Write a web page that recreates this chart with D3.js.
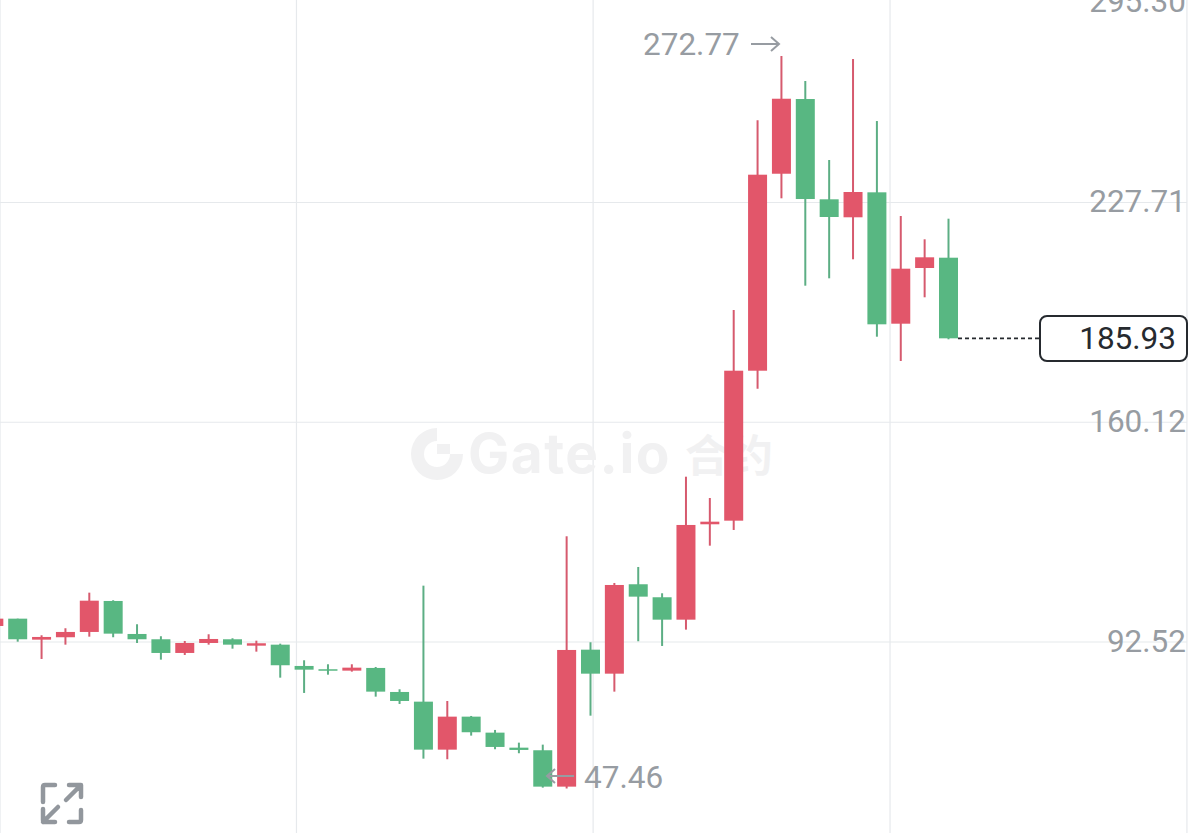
<!DOCTYPE html>
<html><head><meta charset="utf-8">
<script src="https://cdn.jsdelivr.net/npm/d3@7/dist/d3.min.js"></script>
<style>html,body{margin:0;padding:0;background:#fff;overflow:hidden}svg{display:block}</style>
</head><body><svg id="c" width="1199" height="833"></svg>
<script>
const candleIndex=d3.range(-1,40);
const opens=[97.45,99.70,93.24,93.98,95.61,105.14,94.99,93.36,89.15,92.22,93.36,91.39,91.70,85.15,84.14,83.71,84.54,77.15,74.17,59.41,69.56,64.64,60.02,59.22,48.03,90.16,82.78,110.28,106.28,99.39,128.73,129.84,175.97,236.56,259.54,228.69,223.16,230.84,190.43,207.56,210.73];
const closes=[99.70,93.36,94.07,95.61,105.23,95.09,93.36,89.15,92.22,93.45,91.70,92.13,85.37,84.01,83.71,84.63,77.25,74.38,59.41,69.56,64.76,60.24,59.32,48.03,90.07,82.78,110.06,106.47,99.39,128.52,129.53,175.97,236.26,259.63,228.78,223.25,230.94,190.24,207.35,210.85,185.93];
const highs=[99.9,99.70,94.59,96.75,107.70,105.36,97.98,94.29,92.84,94.90,93.67,92.93,92.01,86.90,85.67,85.67,84.84,77.98,109.85,74.38,69.77,65.47,61.56,60.95,125.04,92.44,110.68,115.60,107.51,143.37,136.82,194.64,252.99,272.77,265.08,240.78,271.84,252.77,223.56,216.39,222.73];
const lows=[97.3,92.62,87.30,91.70,94.16,93.98,92.22,87.09,88.53,91.70,90.47,89.55,81.55,76.85,82.47,83.40,75.71,73.46,56.64,56.45,63.72,59.53,58.30,47.72,47.46,69.86,77.25,92.75,91.30,96.32,122.15,126.98,170.44,229.0,202.12,204.39,210.24,186.43,178.96,198.55,185.63];
const yTicks=[227.71,160.12,92.52];
const topLabel="295.30";
const xGridIndex=[-0.74,11.68,24.11,36.55,48.99];
const lastPrice=185.93, maxPrice=272.77, minPrice=47.46;
const red="#e2566a", green="#58b782", wickRed="#d65a6e", wickGreen="#5cae84";
const grid="#e6e9ec", labelCol="#979ca2", darkCol="#262a2f", mark="#f1f1f2";
const font="Roboto, sans-serif";
const fs=31.5;

const svg=d3.select("#c");
const x=d3.scaleLinear().domain([0,39]).range([17.7,948.5]);
const y=d3.scaleLinear().domain([92.52,227.71]).range([642,202.5]);
const bw=19;

svg.append("g").selectAll("line").data(xGridIndex).join("line")
 .attr("x1",d=>x(d)).attr("x2",d=>x(d)).attr("y1",0).attr("y2",833)
 .attr("stroke",grid).attr("stroke-width",1.2);
svg.append("g").selectAll("line").data(yTicks).join("line")
 .attr("x1",0).attr("x2",1187).attr("y1",d=>y(d)).attr("y2",d=>y(d))
 .attr("stroke",grid).attr("stroke-width",1.2);

// watermark
const wm=svg.append("g");
wm.append("path").attr("d",d3.arc()({innerRadius:13,outerRadius:26,startAngle:Math.PI/2,endAngle:Math.PI*2,cornerRadius:0}))
 .attr("transform","translate(437,454)").attr("fill",mark);
wm.append("rect").attr("x",437).attr("y",444).attr("width",13).attr("height",10).attr("fill",mark);
wm.append("text").attr("x",468).attr("y",473).text("Gate.io").attr("font-family","Inter, sans-serif").attr("font-weight",700).attr("font-size",55).attr("letter-spacing",1.5).attr("fill",mark);
wm.append("text").attr("x",685).attr("y",472).text("合约").attr("font-family","'Noto Sans CJK SC'").attr("font-weight",700).attr("font-size",44).attr("fill",mark);

const candles=candleIndex.map((idx,i)=>({idx,o:opens[i],c:closes[i],h:highs[i],l:lows[i]}));
const g=svg.append("g").selectAll("g").data(candles).join("g");
g.append("line").attr("x1",d=>x(d.idx)).attr("x2",d=>x(d.idx)).attr("y1",d=>y(d.h)).attr("y2",d=>y(d.l))
 .attr("stroke",d=>d.c>=d.o?wickRed:wickGreen).attr("stroke-width",2);
g.append("rect").attr("x",d=>x(d.idx)-bw/2).attr("width",bw)
 .attr("y",d=>y(Math.max(d.o,d.c))).attr("height",d=>Math.max(1.5,Math.abs(y(d.o)-y(d.c))))
 .attr("fill",d=>d.c>=d.o?red:green);

// axis labels
const lab=svg.append("g").attr("font-family",font).attr("font-size",fs).attr("fill",labelCol).attr("text-anchor","end");
lab.selectAll("text.t").data(yTicks).join("text").attr("class","t").attr("x",1186).attr("y",d=>y(d)+9.5).text(d=>d.toFixed(2));
lab.append("text").attr("x",1186).attr("y",12).text(topLabel);

// max/min annotations
const ann=svg.append("g").attr("font-family",font).attr("font-size",fs).attr("fill",labelCol);
ann.append("text").attr("x",643).attr("y",y(maxPrice)-1).text(maxPrice.toFixed(2));
ann.append("path").attr("d","M751,44H779M771,37L779,44L771,51").attr("fill","none").attr("stroke",labelCol).attr("stroke-width",2);
ann.append("text").attr("x",584).attr("y",y(minPrice)-0.5).text(minPrice.toFixed(2));
ann.append("path").attr("d","M574,776H547M555,769L547,776L555,783").attr("fill","none").attr("stroke",labelCol).attr("stroke-width",2);

// last price
svg.append("line").attr("x1",x(39)+bw/2).attr("x2",1040).attr("y1",y(lastPrice)).attr("y2",y(lastPrice))
 .attr("stroke",darkCol).attr("stroke-width",1.8).attr("stroke-dasharray","4 3");
svg.append("rect").attr("x",1040).attr("y",316).attr("width",147).attr("height",45).attr("rx",7)
 .attr("fill","#fff").attr("stroke",darkCol).attr("stroke-width",2);
svg.append("text").attr("x",1176).attr("y",y(lastPrice)+11).text(lastPrice.toFixed(2))
 .attr("font-family",font).attr("font-size",fs).attr("fill",darkCol).attr("text-anchor","end");

// fullscreen icon
svg.append("path").attr("d","M43,802V787Q43,785 45,785H55 M69,785H81V797M80,786L66,800 M43,822L58,807 M43,809V820Q43,822 45,822H55 M69,822H79Q81,822 81,820V810")
 .attr("fill","none").attr("stroke","#92979d").attr("stroke-width",4.5).attr("stroke-linecap","round").attr("stroke-linejoin","round");
</script></body></html>
